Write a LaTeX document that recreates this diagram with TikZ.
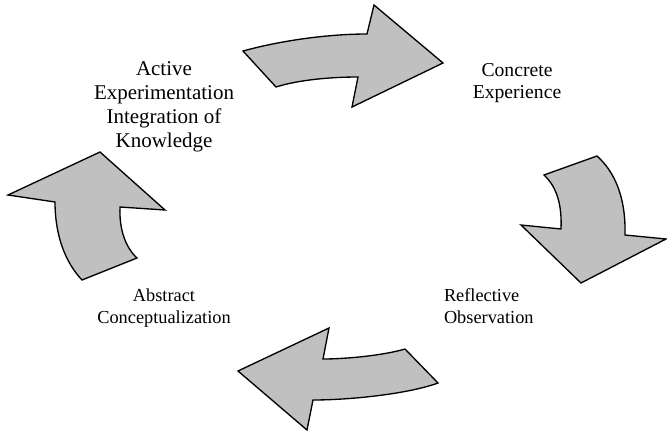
\documentclass[tikz,border=0pt]{standalone}
\usepackage{fontspec}
\setmainfont{Liberation Serif}
\usepackage{xcolor}
\usepackage{tikz}
\usetikzlibrary{positioning,calc}

\definecolor{arrowgray}{RGB}{192,192,192}
\tikzset{
    cyclearrow/.style={draw=black, fill=arrowgray, line width=0.8pt, line join=miter},
    stagelabel/.style={inner sep=0pt, outer sep=0pt}
}

\begin{document}
\begin{tikzpicture}[x=0.6pt, y=-0.6pt]
    \useasboundingbox (0,0) rectangle (667,434);

    % Arrows
    \begin{scope}
        % top: towards concrete experience
        \draw[cyclearrow] (243,51) .. controls (283,40) and (330,34) .. (367,34)
            -- (374,5) -- (443,63) -- (352,107) -- (358,77)
            .. controls (330,77) and (298,80) .. (276,87) -- cycle;
        % right: towards reflective observation
        \draw[cyclearrow] (544,175) -- (597,156)
            .. controls (615,172) and (626,198) .. (625,235)
            -- (666,239) -- (581,283) -- (521,225) -- (561,229)
            .. controls (562,205) and (557,187) .. (544,175) -- cycle;
        % bottom: towards abstract conceptualization
        \draw[cyclearrow] (405,349) .. controls (385,355) and (348,359) .. (323,359)
            -- (329,328) -- (238,371) -- (307,430) -- (313,400)
            .. controls (350,400) and (408,394) .. (438,383) -- cycle;
        % left: towards active experimentation
        \draw[cyclearrow] (100,152) -- (165,210) -- (120,207)
            .. controls (119,230) and (126,248) .. (137,258)
            -- (82,280) .. controls (65,262) and (55,235) .. (55,202)
            -- (8,195) -- cycle;
    \end{scope}

    % Labels
    \node[stagelabel, anchor=north, align=center, font=\fontsize{12.6}{14.4}\selectfont]
        (active) at (164,62) {Active\\Experimentation\\Integration of\\Knowledge};
    \node[stagelabel, anchor=north, align=center, font=\fontsize{11.8}{13.2}\selectfont]
        (concrete) at (517,63) {Concrete\\Experience};
    \node[stagelabel, anchor=north west, align=left, font=\fontsize{11}{12.9}\selectfont]
        (reflective) at (444,289) {Reflective\\Observation};
    \node[stagelabel, anchor=north, align=center, font=\fontsize{11}{12.9}\selectfont]
        (abstract) at (164,289) {Abstract\\Conceptualization};
\end{tikzpicture}
\end{document}
